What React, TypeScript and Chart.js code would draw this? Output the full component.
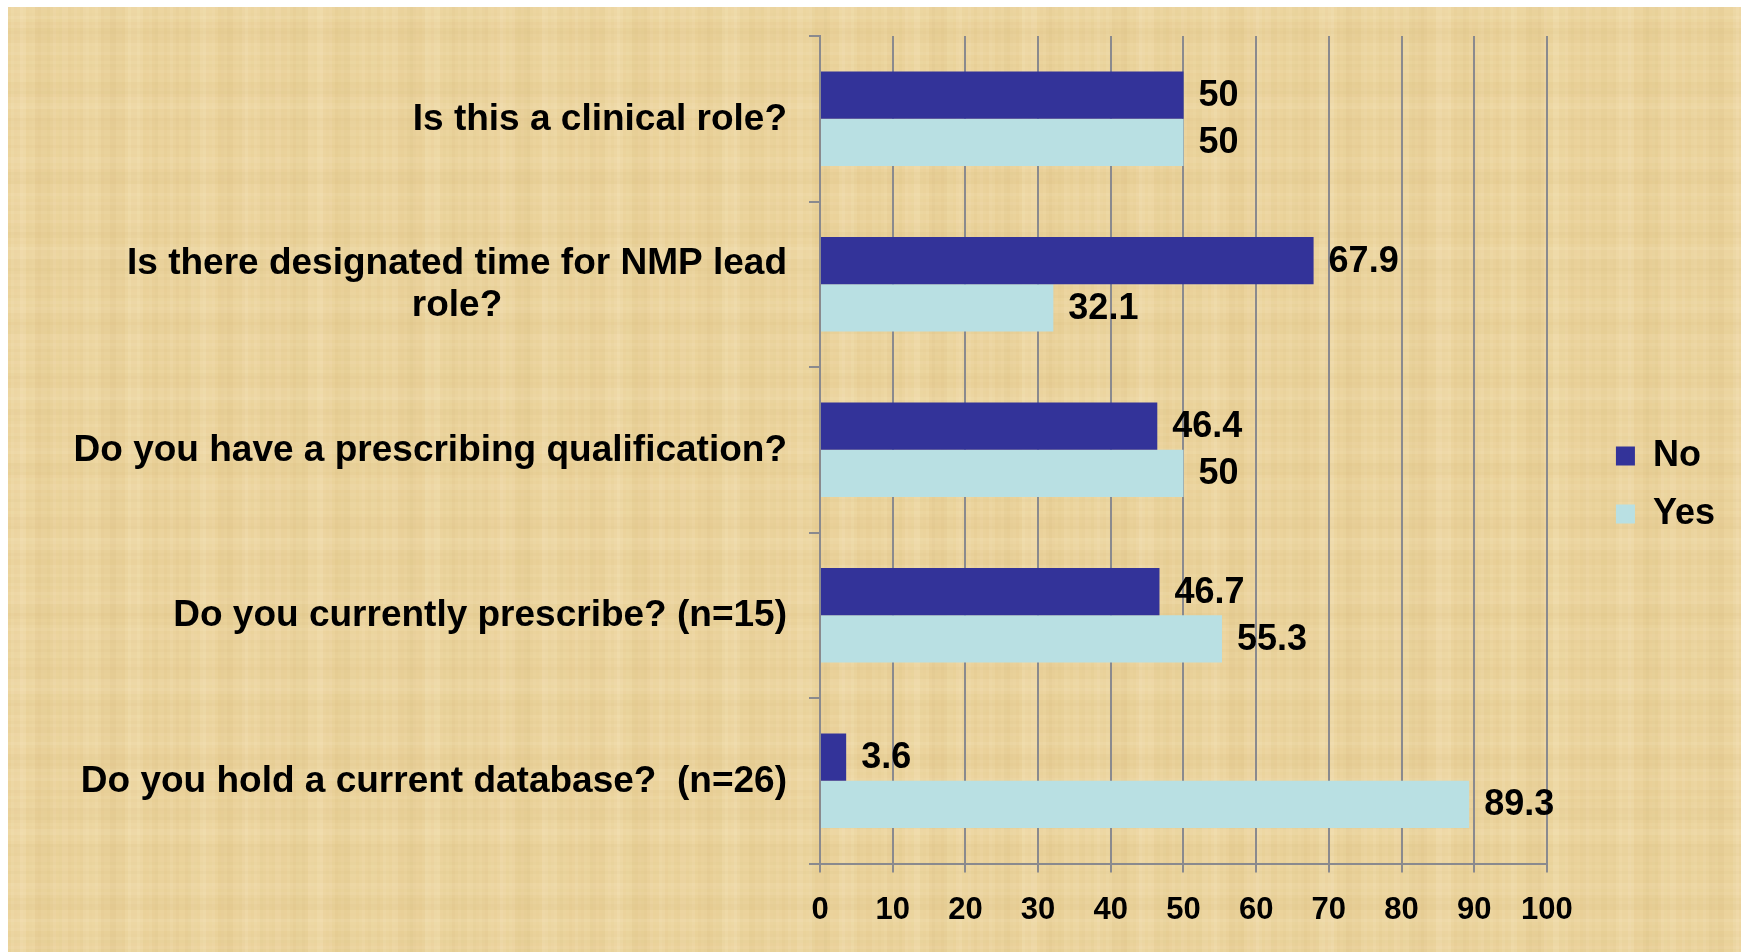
import React, { useEffect, useRef } from 'react';
import { Chart, registerables } from 'chart.js';

Chart.register(...registerables);

// ---- data ----
const CATEGORIES: string[][] = [
  ['Is this a clinical role?'],
  ['Is there designated time for NMP lead', 'role?'],
  ['Do you have a prescribing qualification?'],
  ['Do you currently prescribe? (n=15)'],
  ['Do you hold a current database?  (n=26)'],
];
const SERIES_NAMES = ['No', 'Yes'];
const NO_VALUES = [50, 67.9, 46.4, 46.7, 3.6];
const YES_VALUES = [50, 32.1, 50, 55.3, 89.3];
const X_MIN = 0;
const X_MAX = 100;
const X_STEP = 10;

// ---- style ----
const FONT = '"Liberation Sans", Arial, Helvetica, sans-serif';
const GRID = '#8a8a8e';
const NO_COLOR = '#333399';
const YES_COLOR = '#B9E0E3';

const paperBg = {
  id: 'paperBg',
  beforeDraw(chart: any) {
    const { ctx, width, height } = chart;
    ctx.save();
    ctx.fillStyle = '#EBD39C';
    ctx.fillRect(0, 0, width, height);
    for (let x = 0; x < width; x += 3) {
      const v = Math.sin(x * 0.137) * Math.sin(x * 0.031 + 1.3) + 0.5 * Math.sin(x * 0.59 + 0.2);
      ctx.fillStyle = v > 0 ? `rgba(255,246,220,${0.14 * v})` : `rgba(200,170,100,${-0.1 * v})`;
      ctx.fillRect(x, 0, 3, height);
    }
    for (let y = 0; y < height; y += 3) {
      const v = Math.sin(y * 0.173 + 0.4) * Math.sin(y * 0.043 + 0.7) + 0.5 * Math.sin(y * 0.71 + 1.1);
      ctx.fillStyle = v > 0 ? `rgba(255,246,220,${0.1 * v})` : `rgba(200,170,100,${-0.08 * v})`;
      ctx.fillRect(0, y, width, 3);
    }
    ctx.restore();
  },
};

const valueLabels = {
  id: 'valueLabels',
  afterDatasetsDraw(chart: any) {
    const ctx = chart.ctx;
    ctx.save();
    ctx.font = `bold 36px ${FONT}`;
    ctx.fillStyle = '#000';
    ctx.textAlign = 'left';
    ctx.textBaseline = 'middle';
    chart.data.datasets.forEach((ds: any, di: number) => {
      const meta = chart.getDatasetMeta(di);
      meta.data.forEach((bar: any, i: number) => {
        ctx.fillText(String(ds.data[i]), bar.x + 15, bar.y + 1);
      });
    });
    ctx.restore();
  },
};

const categoryLabels = {
  id: 'categoryLabels',
  afterDraw(chart: any) {
    const ctx = chart.ctx;
    const scale = chart.scales.y;
    ctx.save();
    ctx.font = `bold 37px ${FONT}`;
    ctx.fillStyle = '#000';
    ctx.textAlign = 'center';
    ctx.textBaseline = 'middle';
    const xRight = scale.right - 33;
    CATEGORIES.forEach((lines, i) => {
      const yc = scale.getPixelForValue(i);
      const w = Math.max(...lines.map((l) => ctx.measureText(l).width));
      const cx = xRight - w / 2;
      lines.forEach((l, j) => {
        ctx.fillText(l, cx, yc + (j - (lines.length - 1) / 2) * 42 + 1);
      });
    });
    ctx.restore();
  },
};

export default function App() {
  const ref = useRef<HTMLCanvasElement | null>(null);
  useEffect(() => {
    if (!ref.current) return;
    const chart = new Chart(ref.current, {
      type: 'bar',
      data: {
        labels: CATEGORIES.map((l) => l.join(' ')),
        datasets: [
          {
            label: SERIES_NAMES[0],
            data: NO_VALUES,
            backgroundColor: NO_COLOR,
            borderWidth: 0,
            categoryPercentage: 0.572,
            barPercentage: 1,
          },
          {
            label: SERIES_NAMES[1],
            data: YES_VALUES,
            backgroundColor: YES_COLOR,
            borderWidth: 0,
            categoryPercentage: 0.572,
            barPercentage: 1,
          },
        ],
      },
      options: {
        indexAxis: 'y',
        animation: false,
        responsive: false,
        maintainAspectRatio: false,
        layout: { padding: { top: 29, right: 16, bottom: 18, left: 0 } },
        plugins: {
          legend: {
            position: 'right',
            labels: {
              boxWidth: 19,
              boxHeight: 19,
              padding: 22,
              color: '#000',
              font: { family: FONT, size: 36, weight: 'bold' },
            },
          },
          tooltip: { enabled: false },
        },
        scales: {
          x: {
            min: X_MIN,
            max: X_MAX,
            ticks: {
              stepSize: X_STEP,
              color: '#000',
              padding: 19,
              font: { family: FONT, size: 31, weight: 'bold' },
            },
            grid: { color: GRID, lineWidth: 2, tickLength: 9, drawTicks: true },
            border: { color: GRID, width: 2 },
            afterFit: (s: any) => {
              s.height = 70.5;
            },
          },
          y: {
            ticks: { display: false },
            grid: { drawOnChartArea: false, drawTicks: true, tickLength: 11, color: GRID, lineWidth: 2, offset: true },
            border: { color: GRID, width: 2 },
            afterFit: (s: any) => {
              s.width = 812;
            },
          },
          yR: {
            type: 'linear',
            position: 'right',
            display: true,
            ticks: { display: false },
            grid: { display: false, drawTicks: false },
            border: { display: false },
            afterFit: (s: any) => {
              s.width = 47;
            },
          },
        },
      } as any,
      plugins: [paperBg, valueLabels, categoryLabels],
    });
    return () => chart.destroy();
  }, []);

  return (
    <div style={{ position: 'fixed', left: 8, top: 7, width: 1733, height: 945 }}>
      <canvas ref={ref} width={1733} height={945} />
    </div>
  );
}
